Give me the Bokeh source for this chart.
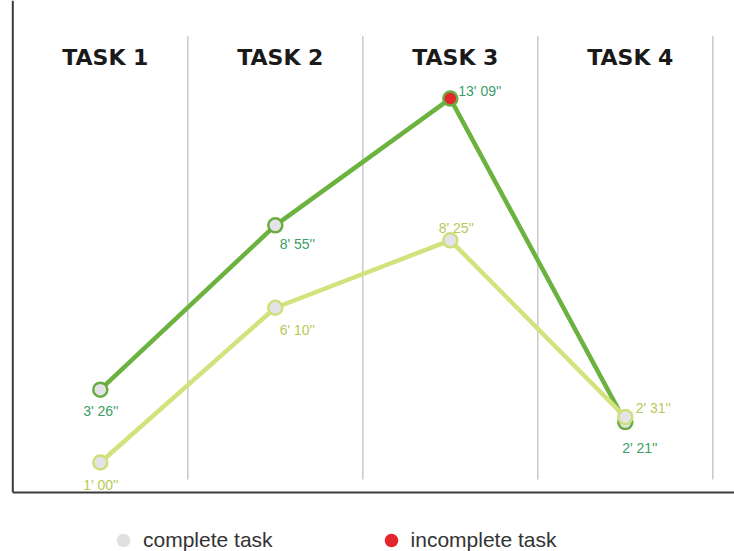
from bokeh.plotting import figure
from bokeh.models import ColumnDataSource, Legend, LegendItem, Range1d
from bokeh.core.properties import value
from bokeh.embed import file_html
from bokeh.resources import INLINE

# ---- data -------------------------------------------------------------
tasks = ["TASK 1", "TASK 2", "TASK 3", "TASK 4"]
dark_seconds = [206, 535, 789, 141]          # 3'26'', 8'55'', 13'09'', 2'21''
light_seconds = [60, 370, 505, 151]          # 1'00'', 6'10'', 8'25'', 2'31''
dark_status = ["complete", "complete", "incomplete", "complete"]
light_status = ["complete", "complete", "complete", "complete"]
legend_labels = ["complete task", "incomplete task"]

# ---- label placement (pixels) -----------------------------------------
dark_dx = [0.5, 22, 29.5, 14.5]
dark_dy = [21.5, 18.5, -8, 25.5]
light_dx = [0.5, 22, 6, 28]
light_dy = [22, 22.5, -12, -9]

# ---- styles ------------------------------------------------------------
DARK_LINE = "#6cb23f"
LIGHT_LINE = "#d3e27c"
DARK_TEXT = "#3a9e66"
LIGHT_TEXT = "#b6ca58"
MARK_FILL = {"complete": "#e3e3e8", "incomplete": "#e3262b"}
FONT_NAME = "Liberation Sans"
LABEL_FONT = value(FONT_NAME)


def fmt(s):
    return f"{s // 60}' {s % 60:02d}''"


xs = [i + 0.5 for i in range(len(tasks))]

dark_src = ColumnDataSource(dict(
    x=xs, y=dark_seconds, label=[fmt(s) for s in dark_seconds],
    fill=[MARK_FILL[s] for s in dark_status], dx=dark_dx, dy=dark_dy))
light_src = ColumnDataSource(dict(
    x=xs, y=light_seconds, label=[fmt(s) for s in light_seconds],
    fill=[MARK_FILL[s] for s in light_status], dx=light_dx, dy=light_dy))
head_src = ColumnDataSource(dict(x=xs, text=tasks))

X0, X1 = -0.0703, 4.124
Y0, Y1 = -118.2, 985.4

p = figure(width=734, height=551,
           x_range=Range1d(X0, X1), y_range=Range1d(Y0, Y1),
           output_backend="svg", toolbar_location=None,
           min_border_left=0, min_border_right=0,
           min_border_top=0, min_border_bottom=0)
p.axis.visible = False
p.grid.visible = False
p.outline_line_color = None
p.background_fill_color = "white"

# frame lines (left / bottom)
p.segment(x0=[0, 0], y0=[0, 0], x1=[0, X1], y1=[Y1, 0],
          line_color="#3a3a3a", line_width=2)

# column separators
seps = list(range(1, len(tasks) + 1))
p.segment(x0=seps, x1=seps, y0=26, y1=914, line_color="#c9c9c9", line_width=1.5)

# headings
p.text(x="x", y=870.6, text="text", source=head_src, x_offset=5,
       text_align="center", text_baseline="alphabetic",
       text_font=value("DejaVu Sans"), text_font_style="bold",
       text_font_size="22px", text_color="#1a1a1a")

# dark series
p.line(x="x", y="y", source=dark_src, line_color=DARK_LINE, line_width=4.5)
p.scatter(x="x", y="y", source=dark_src, size=14, fill_color="fill",
          line_color="#68ac42", line_width=2.5)
# light series
p.line(x="x", y="y", source=light_src, line_color=LIGHT_LINE, line_width=4.5)
p.scatter(x="x", y="y", source=light_src, size=14, fill_color="fill",
          line_color="#d0df7a", line_width=2.5)

# value labels
p.text(x="x", y="y", text="label", source=dark_src, x_offset="dx", y_offset="dy",
       text_align="center", text_baseline="alphabetic",
       text_font=LABEL_FONT, text_font_size="14px", text_color=DARK_TEXT)
p.text(x="x", y="y", text="label", source=light_src, x_offset="dx", y_offset="dy",
       text_align="center", text_baseline="alphabetic",
       text_font=LABEL_FONT, text_font_size="14px", text_color=LIGHT_TEXT)

# legend (proxy renderers with no visible points)
nan = float("nan")
r_c = p.scatter(x=[nan], y=[nan], size=14, fill_color="#e0e0e0", line_color=None)
r_i = p.scatter(x=[nan], y=[nan], size=14, fill_color="#e3262b", line_color=None)
legend = Legend(items=[LegendItem(label=legend_labels[0], renderers=[r_c]),
                       LegendItem(label=legend_labels[1], renderers=[r_i])],
                orientation="horizontal", location=(106, -6),
                glyph_width=34, glyph_height=34, label_standoff=3, spacing=101,
                padding=0, margin=0, border_line_color=None,
                background_fill_alpha=0,
                label_text_font=FONT_NAME, label_text_font_size="21px",
                label_text_color="#333333")
p.add_layout(legend)

open("out.html", "w").write(file_html(p, INLINE))
